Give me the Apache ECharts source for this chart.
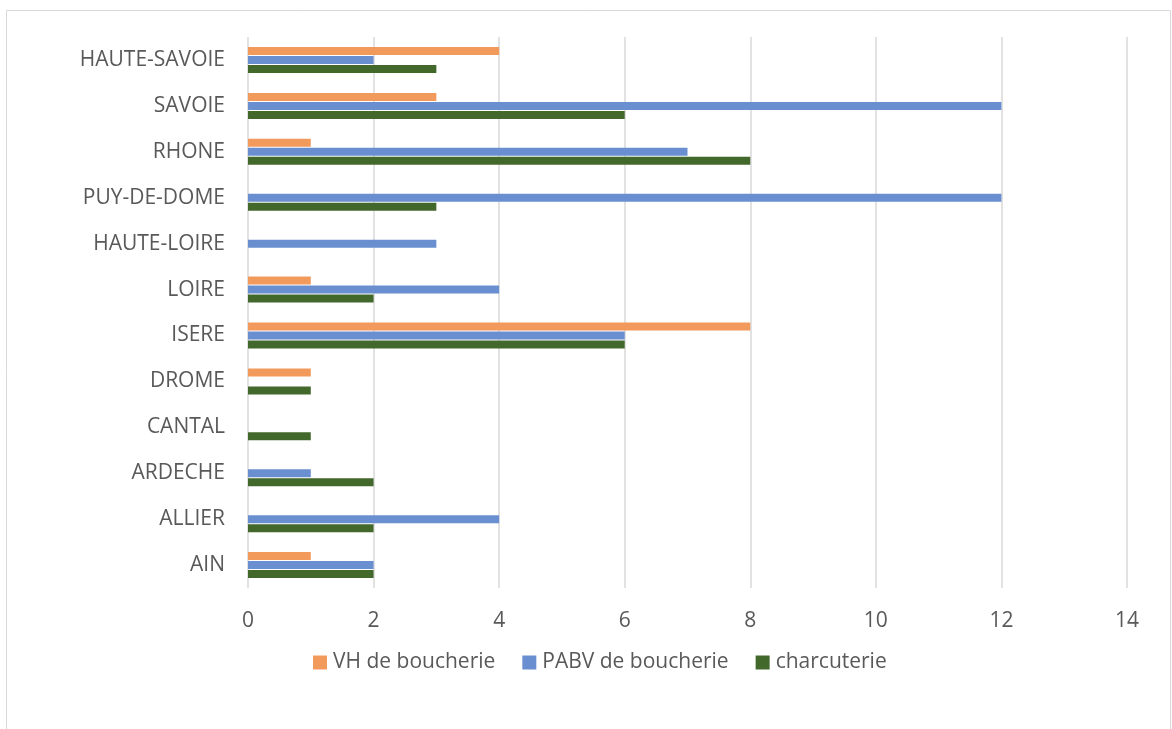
<!DOCTYPE html>
<html>
<head>
<meta charset="utf-8">
<script src="https://cdn.jsdelivr.net/npm/echarts@6/dist/echarts.min.js"></script>
<style>
  html, body { margin: 0; padding: 0; background: #fff; }
  #chart { width: 1172px; height: 729px; }
</style>
</head>
<body>
<div id="chart"></div>
<script>
// Départements, listed bottom to top on the vertical axis
const departements = ['AIN', 'ALLIER', 'ARDECHE', 'CANTAL', 'DROME', 'ISERE', 'LOIRE',
  'HAUTE-LOIRE', 'PUY-DE-DOME', 'RHONE', 'SAVOIE', 'HAUTE-SAVOIE'];

const vhBoucherie   = [1, 0, 0, 0, 1, 8, 1, 0, 0, 1, 3, 4];
const pabvBoucherie = [2, 4, 1, 0, 0, 6, 4, 3, 12, 7, 12, 2];
const charcuterie   = [2, 2, 2, 1, 1, 6, 2, 0, 3, 8, 6, 3];

const xTicks = [0, 2, 4, 6, 8, 10, 12, 14];

const textColor = '#595959';
const fontFamily = '"Open Sans", "Noto Sans", sans-serif';
const fontSize = 21;

const chart = echarts.init(document.getElementById('chart'));

const barBase = { type: 'bar', barWidth: 8, barGap: '12.5%', barCategoryGap: '40%' };

chart.setOption({
  animation: false,
  textStyle: { fontFamily: fontFamily },
  graphic: [{
    type: 'rect',
    shape: { x: 6.5, y: 10.5, width: 1164, height: 740 },
    style: { fill: 'none', stroke: '#d9d9d9', lineWidth: 1 },
    silent: true
  }],
  legend: {
    data: ['VH de boucherie', 'PABV de boucherie', 'charcuterie'],
    top: 647,
    left: 308,
    icon: 'rect',
    itemWidth: 14,
    itemHeight: 14,
    itemGap: 27,
    textStyle: { color: textColor, fontSize: fontSize, fontFamily: fontFamily, padding: [0, 0, 0, 1] }
  },
  grid: { left: 248, right: 45, top: 37, bottom: 141, containLabel: false },
  xAxis: {
    type: 'value',
    min: xTicks[0],
    max: xTicks[xTicks.length - 1],
    interval: 2,
    axisLine: { show: false },
    axisTick: { show: false },
    splitLine: { show: true, lineStyle: { color: '#d9d9d9', width: 1.5 } },
    axisLabel: { color: textColor, fontSize: fontSize, margin: 23, fontFamily: fontFamily }
  },
  yAxis: {
    type: 'category',
    data: departements,
    axisLine: { show: false },
    axisTick: { show: false },
    axisLabel: { color: textColor, fontSize: fontSize, margin: 23, fontFamily: fontFamily }
  },
  series: [
    Object.assign({}, barBase, { name: 'VH de boucherie', data: vhBoucherie, itemStyle: { color: '#F29A5C' } }),
    Object.assign({}, barBase, { name: 'PABV de boucherie', data: pabvBoucherie, itemStyle: { color: '#6A8FD0' } }),
    Object.assign({}, barBase, { name: 'charcuterie', data: charcuterie, itemStyle: { color: '#43682B' } })
  ]
});
</script>
</body>
</html>
